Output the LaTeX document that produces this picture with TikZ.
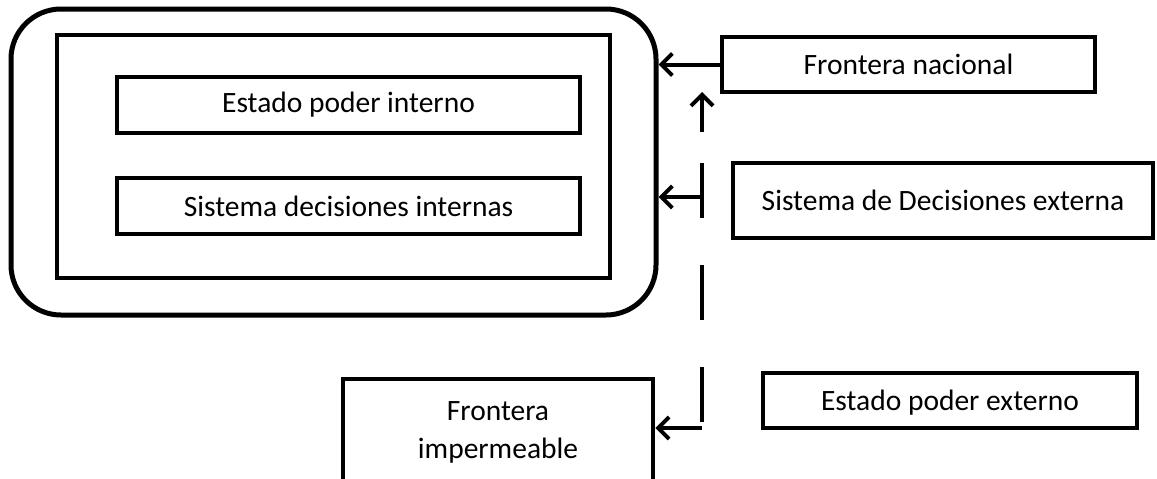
\documentclass[tikz,border=0pt]{standalone}
\usepackage{fontspec}
\setmainfont{Carlito}
\usetikzlibrary{arrows.meta}
\begin{document}
\begin{tikzpicture}[x=1pt,y=-1pt,
  box/.style={draw,line width=4.5pt,inner sep=0pt,font=\fontsize{29.5}{38}\selectfont},
  conn/.style={line width=4pt,-{Straight Barb[length=11pt,width=22pt,line width=4pt]}},
  dashline/.style={line width=4pt,dash pattern=on 55pt off 47pt}]
\useasboundingbox (0,0) rectangle (1157,479);
\clip (0,0) rectangle (1157,479);
\node[draw,line width=5pt,rounded corners=50pt,minimum width=645pt,minimum height=306pt] (nation) at (333.5,162) {};
\node[box,minimum width=553pt,minimum height=243pt] (inner) at (333.5,156.5) {};
\node[box,minimum width=463pt,minimum height=56pt] (epi) at (348.5,105) {Estado poder interno};
\node[box,minimum width=463pt,minimum height=56pt] (sdi) at (348.5,206) {Sistema decisiones internas};
\node[box,minimum width=373pt,minimum height=55pt] (fn) at (908.5,64.5) {Frontera nacional};
\node[box,minimum width=420pt,minimum height=75pt] (sde) at (943,200.5) {Sistema de Decisiones externa};
\node[box,minimum width=374pt,minimum height=55pt,text depth=0pt] (epe) at (950,400.5) {Estado poder externo};
\node[box,minimum width=310pt,minimum height=106pt,align=center] (fi) at (498,432) {Frontera\\impermeable};
\coordinate (u1) at (702,132);
\coordinate (u2) at (702,92);
\coordinate (d1) at (702,163);
\coordinate (d2) at (702,422);
\coordinate (a1) at (702,197);
\coordinate (a2) at (702,428);
\draw[conn] (fn.west) -- (nation.east |- fn.west);
\draw[conn] (u1) -- (u2);
\draw[dashline] (d1) -- (d2);
\draw[conn] (a1) -- (nation.east |- a1);
\draw[conn] (a2) -- (fi.east |- a2);
\end{tikzpicture}
\end{document}
